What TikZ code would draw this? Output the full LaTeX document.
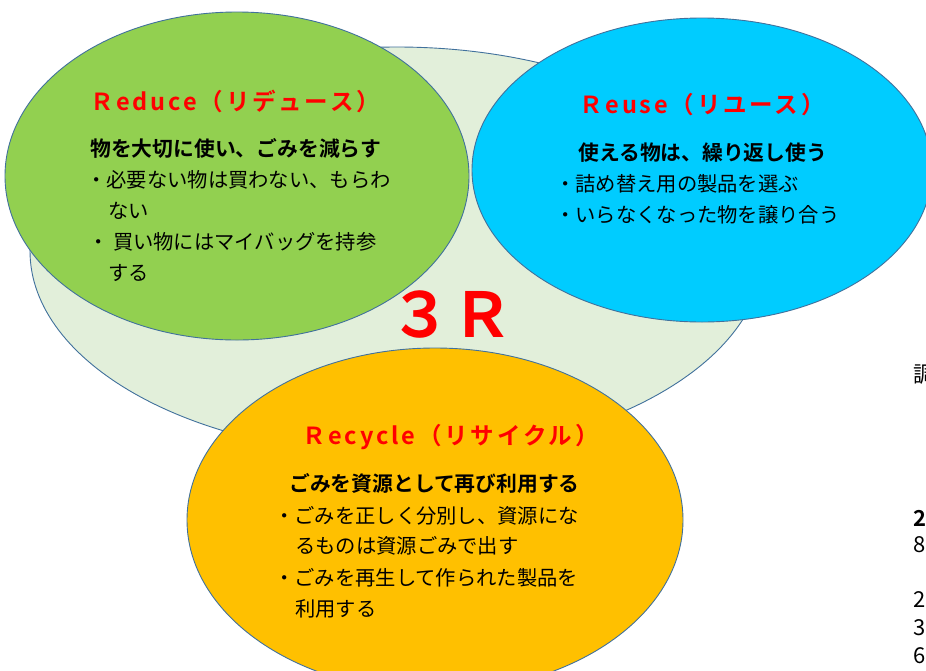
\documentclass[tikz,border=0pt]{standalone}
\usepackage{fontspec}
\setmainfont{Noto Sans CJK JP}
\newfontfamily\jpb{Noto Sans CJK JP Bold}
\newfontfamily\jpt[LetterSpace=12]{Noto Sans CJK JP Bold}
\definecolor{edgeblue}{HTML}{41719C}
\definecolor{lightgr}{HTML}{E2EFDA}
\definecolor{grn}{HTML}{92D050}
\definecolor{cyanb}{HTML}{00CCFF}
\definecolor{orng}{HTML}{FFC000}
\tikzset{
  blob/.style={draw=edgeblue, line width=0.9pt},
  ttl/.style={anchor=west, text=red, font=\jpt\fontsize{23.5}{23.5}\selectfont, inner sep=0pt},
  bld/.style={anchor=west, font=\jpb\fontsize{20.8}{20.8}\selectfont, inner sep=0pt},
  itm/.style={anchor=west, font=\fontsize{20.3}{20.3}\selectfont, inner sep=0pt},
  frag/.style={anchor=west, font=\fontsize{22}{22}\selectfont, inner sep=0pt}
}
\begin{document}
\begin{tikzpicture}[x=1pt,y=-1pt]
\useasboundingbox (0,0) rectangle (926,670);
\clip (0,0) rectangle (926,670);
\fill[white] (0,0) rectangle (926,670);
% ellipses
\draw[blob, fill=lightgr] (397,251) ellipse [x radius=367, y radius=204];
\draw[blob, fill=grn] (237,176) ellipse [x radius=232, y radius=164];
\draw[blob, fill=cyanb] (702,170) ellipse [x radius=230, y radius=152];
\draw[blob, fill=orng] (435,520) ellipse [x radius=248, y radius=172];
% 3R
\node[text=red, font=\jpb\fontsize{62}{62}\selectfont, inner sep=0pt, anchor=west] (threeR) at (389,314) {３Ｒ};
% Reduce
\node[ttl] (redT) at (90,101) {Ｒeduce（リデュース）};
\node[bld] (redB) at (90,148) {物を大切に使い、ごみを減らす};
\node[itm] (redI1) at (86,180) {・必要ない物は買わない、もらわ};
\node[itm] (redI2) at (108,211) {ない};
\node[itm] (redI3) at (88,242) {・ 買い物にはマイバッグを持参};
\node[itm] (redI4) at (108,273) {する};
% Reuse
\node[ttl] (reuT) at (579,105) {Ｒeuse（リユース）};
\node[bld] (reuB) at (578,153) {使える物は、繰り返し使う};
\node[itm] (reuI1) at (555,184) {・詰め替え用の製品を選ぶ};
\node[itm] (reuI2) at (555,215) {・いらなくなった物を譲り合う};
% Recycle
\node[ttl] (recT) at (302,437) {Ｒecycle（リサイクル）};
\node[bld] (recB) at (289,483) {ごみを資源として再び利用する};
\node[itm] (recI1) at (274,516) {・ごみを正しく分別し、資源にな};
\node[itm] (recI2) at (295,546) {るものは資源ごみで出す};
\node[itm] (recI3) at (274,578) {・ごみを再生して作られた製品を};
\node[itm] (recI4) at (295,609) {利用する};
% clipped fragments at right edge
\node[frag] (f1) at (913,375) {調};
\node[frag, font=\jpb\fontsize{22}{22}\selectfont] (f2) at (913,518) {2};
\node[frag] (f3) at (913,545) {8};
\node[frag] (f4) at (913,600) {2};
\node[frag] (f5) at (913,628) {3};
\node[frag] (f6) at (913,656) {6};
\end{tikzpicture}
\end{document}
